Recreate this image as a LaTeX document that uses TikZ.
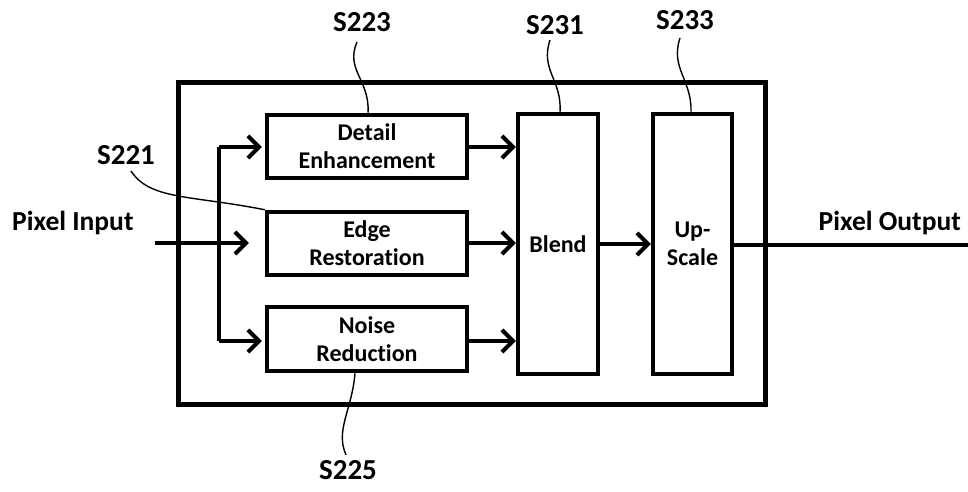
\documentclass[tikz,border=0pt]{standalone}
\usepackage{fontspec}
\setmainfont[Ligatures=NoCommon]{Carlito}
\usetikzlibrary{arrows.meta}
\begin{document}
\begin{tikzpicture}[x=1pt,y=-1pt,
  blk/.style={draw, line width=4.5pt, rectangle, align=center, inner sep=0pt,
     font=\fontsize{24}{28}\selectfont\bfseries},
  flow/.style={line width=4pt, -{Straight Barb[length=11pt,width=22pt,line width=4pt]}},
  lead/.style={line width=1.4pt},
  lbl/.style={font=\fontsize{29}{30}\selectfont\bfseries, inner sep=0pt},
  io/.style={font=\fontsize{27.5}{28}\selectfont\bfseries, inner sep=0pt}]
\useasboundingbox (0,0) rectangle (968,492);
% outer box
\node[draw, line width=5pt, minimum width=587pt, minimum height=321pt, inner sep=0pt] (outer) at (471.5,243.5) {};
% blocks
\node[blk, minimum width=200pt, minimum height=63pt] (detail) at (367,146.5) {Detail\\Enhancement};
\node[blk, minimum width=200pt, minimum height=63pt] (edge) at (367,243.5) {Edge\\Restoration};
\node[blk, minimum width=200pt, minimum height=64pt] (noise) at (367,339) {Noise\\Reduction};
\node[blk, minimum width=80pt, minimum height=260pt] (blend) at (558,244) {Blend};
\node[blk, minimum width=79pt, minimum height=260pt] (up) at (692.5,244) {Up-\\Scale};
% io labels
\node[io, anchor=west] (pin) at (12,223) {Pixel Input};
\node[io, anchor=east] (pout) at (961,223) {Pixel Output};
% branch
\coordinate (in) at (155,243);
\coordinate (jt) at (219,147);
\coordinate (jb) at (219,341);
\coordinate (out) at (968,245);
\draw[line width=4pt] (jt) -- (jb);
\draw[flow, shorten >=3pt] (jt) -- (detail.west |- jt);
\draw[flow, shorten >=3pt] (jb) -- (noise.west |- jb);
\draw[flow, shorten >=16pt] (in) -- (edge.west |- in);
\draw[flow] (detail.east |- 0,147) -- (blend.west |- 0,147);
\draw[flow] (edge.east |- 0,243) -- (blend.west |- 0,243);
\draw[flow] (noise.east |- 0,341) -- (blend.west |- 0,341);
\draw[flow] (blend.east |- 0,244) -- (up.west |- 0,244);
\draw[line width=4pt] (up.east |- out) -- (out);
% reference labels
\node[lbl] (s223) at (362,22) {S223};
\node[lbl] (s231) at (555,25) {S231};
\node[lbl] (s233) at (685,20) {S233};
\node[lbl] (s221) at (126,155) {S221};
\node[lbl] (s225) at (348,470) {S225};
\coordinate (s223e) at (357,42);
\coordinate (s231e) at (550,40);
\coordinate (s233e) at (680,38);
\coordinate (s221e) at (131,171);
\coordinate (s225e) at (346,455);
\draw[lead] (s223e) .. controls (345,70) and (370,80) .. (detail.north -| 368,0);
\draw[lead] (s231e) .. controls (540,70) and (562,80) .. (blend.north -| 560,0);
\draw[lead] (s233e) .. controls (670,68) and (692,80) .. (up.north -| 691,0);
\draw[lead] (s221e) .. controls (150,200) and (190,195) .. (edge.north west);
\draw[lead] (noise.south -| 355,0) .. controls (352,410) and (335,430) .. (s225e);
\end{tikzpicture}
\end{document}
